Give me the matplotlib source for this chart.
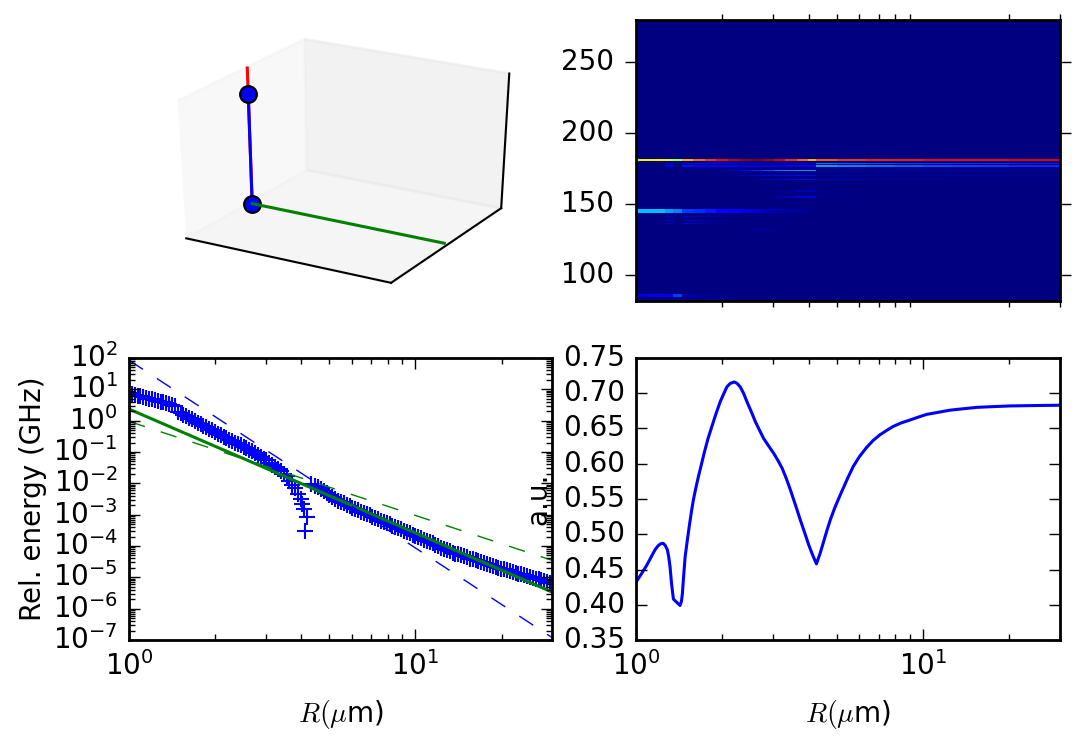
import numpy as np
import matplotlib
matplotlib.use('Agg')
import matplotlib.pyplot as plt
from matplotlib.ticker import LogLocator, NullFormatter, FixedLocator
from mpl_toolkits.mplot3d import Axes3D

# ---------------- data ----------------
log_R_pts = [
    0.00, 0.01, 0.02, 0.03, 0.04, 0.05, 0.06, 0.07, 0.08, 0.09,
    0.10, 0.11, 0.12, 0.13, 0.14, 0.15, 0.16, 0.17, 0.18, 0.19,
    0.20, 0.21, 0.22, 0.23, 0.24, 0.25, 0.26, 0.27, 0.28, 0.29,
    0.30, 0.31, 0.32, 0.33, 0.34, 0.35, 0.36, 0.37, 0.38, 0.39,
    0.40, 0.41, 0.42, 0.43, 0.44, 0.45, 0.46, 0.47, 0.48, 0.49,
    0.50, 0.51, 0.52, 0.53, 0.54, 0.55, 0.56, 0.57, 0.58, 0.59,
    0.60, 0.605, 0.61, 0.615, 0.622, 0.637, 0.65, 0.66, 0.67, 0.68,
    0.69, 0.70, 0.71, 0.72, 0.73, 0.74, 0.75, 0.76, 0.77, 0.78,
    0.79, 0.80, 0.81, 0.82, 0.83, 0.84, 0.85, 0.86, 0.87, 0.88,
    0.89, 0.90, 0.91, 0.92, 0.93, 0.94, 0.95, 0.96, 0.97, 0.98,
    0.99, 1.00, 1.01, 1.02, 1.03, 1.04, 1.05, 1.06, 1.07, 1.08,
    1.09, 1.10, 1.11, 1.12, 1.13, 1.14, 1.15, 1.16, 1.17, 1.18,
    1.19, 1.20, 1.21, 1.22, 1.23, 1.24, 1.25, 1.26, 1.27, 1.28,
    1.29, 1.30, 1.31, 1.32, 1.33, 1.34, 1.35, 1.36, 1.37, 1.38,
    1.39, 1.40, 1.41, 1.42, 1.43, 1.44, 1.45, 1.46, 1.47, 1.48]
log_E_pts = [
    0.88, 0.85, 0.83, 0.80, 0.78, 0.75, 0.73, 0.70, 0.68, 0.65,
    0.62, 0.60, 0.58, 0.55, 0.53, 0.50, 0.48, 0.29, 0.24, 0.19,
    0.14, 0.09, 0.04, -0.01, -0.06, -0.11, -0.16, -0.21, -0.26, -0.31,
    -0.36, -0.41, -0.47, -0.52, -0.56, -0.61, -0.65, -0.70, -0.75, -0.79,
    -0.84, -0.88, -0.93, -0.98, -1.03, -1.09, -1.15, -1.21, -1.27, -1.34,
    -1.41, -1.47, -1.54, -1.61, -1.69, -1.78, -1.92, -2.05, -2.16, -2.35,
    -2.50, -2.65, -2.82, -3.52, -3.06, -2.02, -2.08, -2.13, -2.18, -2.24,
    -2.30, -2.37, -2.43, -2.50, -2.55, -2.59, -2.64, -2.69, -2.73, -2.78,
    -2.82, -2.86, -2.90, -2.94, -2.98, -3.02, -3.06, -3.10, -3.14, -3.19,
    -3.23, -3.27, -3.31, -3.35, -3.39, -3.43, -3.47, -3.51, -3.55, -3.60,
    -3.64, -3.68, -3.72, -3.76, -3.80, -3.84, -3.88, -3.92, -3.96, -4.00,
    -4.05, -4.09, -4.13, -4.17, -4.21, -4.24, -4.27, -4.30, -4.33, -4.36,
    -4.40, -4.43, -4.46, -4.49, -4.52, -4.55, -4.58, -4.61, -4.63, -4.66,
    -4.69, -4.72, -4.74, -4.77, -4.80, -4.82, -4.85, -4.88, -4.90, -4.93,
    -4.96, -4.98, -5.01, -5.04, -5.06, -5.09, -5.12, -5.14, -5.17, -5.19]

R_ends = [1, 30]
green_solid = [2.35, 3.4e-6]
green_dash = [0.95, 3.5e-5]
blue_dash = [85, 1.2e-7]

R_curve = [1.0, 1.045, 1.09, 1.13, 1.165, 1.19, 1.213, 1.23, 1.245, 1.265,
           1.286, 1.30, 1.314, 1.33, 1.35, 1.39, 1.424, 1.44, 1.451, 1.465,
           1.483, 1.51, 1.535, 1.56, 1.585, 1.615, 1.65, 1.69, 1.727, 1.78,
           1.838, 1.90, 1.965, 2.02, 2.073, 2.13, 2.199, 2.25, 2.307, 2.37,
           2.435, 2.52, 2.603, 2.69, 2.783, 2.90, 3.016, 3.12, 3.226, 3.34,
           3.45, 3.59, 3.738, 3.87, 3.996, 4.12, 4.252, 4.38, 4.508, 4.63,
           4.758, 4.92, 5.087, 5.241, 5.47, 5.71, 6.0, 6.355, 6.7, 7.072,
           7.45, 7.876, 8.4, 9.0, 9.6, 10.29, 11.3, 12.41, 13.8, 15.39,
           17.5, 20.06, 24.0, 30.0]
au_curve = [0.432, 0.444, 0.456, 0.468, 0.478, 0.483, 0.486, 0.487, 0.487, 0.484,
            0.478, 0.468, 0.454, 0.430, 0.408, 0.403, 0.399, 0.405, 0.416, 0.440,
            0.468, 0.492, 0.513, 0.532, 0.549, 0.565, 0.582, 0.599, 0.615, 0.635,
            0.653, 0.671, 0.688, 0.699, 0.709, 0.714, 0.716, 0.714, 0.709, 0.700,
            0.688, 0.674, 0.660, 0.648, 0.636, 0.625, 0.615, 0.605, 0.594, 0.579,
            0.563, 0.542, 0.520, 0.502, 0.485, 0.471, 0.458, 0.473, 0.490, 0.506,
            0.521, 0.537, 0.551, 0.563, 0.580, 0.596, 0.610, 0.623, 0.633, 0.641,
            0.647, 0.653, 0.658, 0.662, 0.666, 0.670, 0.673, 0.676, 0.678, 0.680,
            0.681, 0.682, 0.6825, 0.683]

map_log_R_edges = [0, .05, .10, .13, .16, .20, .24, .28, .32, .36, .40, .44, .48,
                   .52, .56, .60, .627, .70, .80, .90, 1.0, 1.1, 1.2, 1.3, 1.4, 1.48]
map_freq_edges = [82, 85, 87, 131.5, 133, 136, 137, 138.3, 139.3, 140.9, 141.9,
                  144, 146.4, 154.8, 156.2, 159, 160, 167, 168, 170, 171,
                  173.2, 173.9, 176.4, 178, 178.6, 179.4, 180.8, 181.6, 280]
line_86 = [.08, .09, .10, .18, .04, .03, .02, .02, .01, 0, 0, 0, 0, 0, 0, 0, 0, 0, 0, 0, 0, 0, 0, 0, 0]
line_132 = [0, 0, 0, 0, 0, 0, 0, 0, 0, .01, .02, .02, .01, 0, 0, 0, 0, 0, 0, 0, 0, 0, 0, 0, 0]
line_136 = [0, 0, .06, 0, .06, .05, .03, .02, .01, 0, 0, 0, 0, 0, 0, 0, 0, 0, 0, 0, 0, 0, 0, 0, 0]
line_139 = [0, 0, .06, 0, .06, .05, .03, .02, .01, 0, 0, 0, 0, 0, 0, 0, 0, 0, 0, 0, 0, 0, 0, 0, 0]
line_141 = [0, 0, .06, 0, .06, .05, .04, .02, .01, 0, 0, 0, 0, 0, 0, 0, 0, 0, 0, 0, 0, 0, 0, 0, 0]
line_145 = [.31, .31, .28, .25, .18, .17, .15, .13, .11, .09, .07, .05, .04, .03, .02, .01, 0, 0, 0, 0, 0, 0, 0, 0, 0]
line_155 = [0, 0, 0, 0, 0, 0, 0, 0, 0, 0, 0, .01, .03, .05, .08, .09, .01, .01, 0, 0, 0, 0, 0, 0, 0]
line_159 = [0, 0, 0, 0, 0, 0, 0, 0, 0, 0, 0, 0, .01, .02, .05, .06, .01, 0, 0, 0, 0, 0, 0, 0, 0]
line_167 = [0, 0, 0, 0, 0, 0, 0, 0, 0, 0, .03, .05, .07, .10, .12, .13, .04, .04, .03, .03, .03, .02, .02, .02, .02]
line_170 = [0, 0, 0, 0, 0, 0, 0, 0, .01, .03, .06, .09, .11, .12, .13, .13, .03, .03, .03, .02, .02, .02, .02, .02, .02]
line_173 = [0, 0, 0, 0, 0, 0, 0, .03, .06, .11, .16, .20, .24, .26, .27, .28, .05, .05, .05, .05, .04, .04, .04, .03, .03]
line_177 = [0, 0, .10, 0, .14, .13, .12, .12, .11, .10, .09, .09, .10, .11, .12, .13, .28, .26, .24, .22, .20, .19, .18, .17, .17]
line_179 = [0, 0, .08, 0, .13, .13, .12, .12, .11, .10, .09, .08, .08, .08, .08, .09, .24, .22, .20, .19, .18, .17, .17, .16, .16]
line_181 = [.66, .66, .62, .55, .72, .80, .86, .90, .94, .98, 1.0, .97, .92, .87, .80, .72, .82, .86, .88, .89, .90, .90, .90, .91, .91]

y_ticks_map = [100, 150, 200, 250]
y_ticks_au = [0.35, 0.40, 0.45, 0.50, 0.55, 0.60, 0.65, 0.70, 0.75]

# 3D sketch
z_axis_x, z_axis_y, z_axis_z = [0, 0], [0, 0], [0, 0.98]
x_axis_x, x_axis_y, x_axis_z = [0, 1.0], [0, 0], [0, 0]
bond_x, bond_y, bond_z = [0, 0], [0, 0], [0, 0.8]

# ---------------- figure ----------------
plt.style.use('classic')
FS = 10
plt.rcParams.update({'font.size': FS, 'axes.labelsize': FS, 'xtick.labelsize': FS,
                     'ytick.labelsize': FS, 'lines.scale_dashes': False})
W, H = 1078, 751
fig = plt.figure(figsize=(W / 200, H / 200), dpi=200, facecolor='white')


def box(x0, y0, x1, y1):
    return [x0 / W, 1 - y1 / H, (x1 - x0) / W, (y1 - y0) / H]


def log_x(ax):
    ax.set_xscale('log')
    ax.set_xlim(1, 30)
    ax.xaxis.set_major_locator(LogLocator(base=10, numticks=5))
    ax.xaxis.set_minor_locator(LogLocator(base=10, subs=range(2, 10), numticks=5))
    ax.xaxis.set_minor_formatter(NullFormatter())


# 3D panel
ax3 = fig.add_axes(box(129, 20, 552, 301), projection='3d', computed_zorder=False)
ax3.patch.set_visible(False)
ax3.plot(z_axis_x, z_axis_y, z_axis_z, color='r', lw=1.1)
ax3.plot(bond_x, bond_y, bond_z, color='b', lw=1.1)
ax3.plot(bond_x, bond_y, bond_z, 'o', mfc='b', mec='k', ms=6, mew=0.8)
ax3.plot(x_axis_x, x_axis_y, x_axis_z, color='g', lw=1.1)
ax3.set_xlim(-0.02, 1.02)
ax3.set_ylim(-1, 1)
ax3.set_zlim(0, 0.97)
ax3.set_xticks([])
ax3.set_yticks([])
ax3.set_zticks([])
ax3.grid(False)
ax3.set_box_aspect((1, 1, 1), zoom=0.94)
# let the 3D box fill the whole panel, stretched to its width
_pos3 = ax3.get_position(original=True)
ax3.apply_aspect = lambda position=None: ax3._set_position(_pos3, 'active')

# heat map
ax_map = fig.add_axes(box(636, 20, 1060, 301))
Z = np.zeros((len(map_freq_edges) - 1, len(map_log_R_edges) - 1))
Z[1::2] = np.array([line_86, line_132, line_136, line_139, line_141, line_145, line_155,
                    line_159, line_167, line_170, line_173, line_177, line_179, line_181])
ax_map.pcolormesh(10.0 ** np.array(map_log_R_edges), map_freq_edges, Z,
                  cmap='jet', vmin=0, vmax=1, shading='flat')
log_x(ax_map)
ax_map.set_ylim(82, 279.7)
ax_map.yaxis.set_major_locator(FixedLocator(y_ticks_map))
ax_map.tick_params(axis='both', which='both', direction='out')
ax_map.tick_params(axis='x', which='major', length=0, labelbottom=False)

# energies
ax_e = fig.add_axes(box(129, 358, 552, 640))
ax_e.plot(10.0 ** np.array(log_R_pts), 10.0 ** np.array(log_E_pts), '+', color='b', ms=6, mew=0.75)
ax_e.plot(R_ends, green_solid, color='g', lw=1.1)
ax_e.plot(R_ends, green_dash, color='g', lw=0.5, ls=(0, (6, 6)))
ax_e.plot(R_ends, blue_dash, color='b', lw=0.5, ls=(0, (6, 6)))
ax_e.set_yscale('log')
log_x(ax_e)
ax_e.set_ylim(1e-7, 1e2)
ax_e.yaxis.set_major_locator(LogLocator(base=10, numticks=12))
ax_e.yaxis.set_minor_locator(LogLocator(base=10, subs=range(2, 10), numticks=12))
ax_e.yaxis.set_minor_formatter(NullFormatter())
ax_e.set_xlabel(r'$R(\mu$m)', labelpad=6)
ax_e.set_ylabel('Rel. energy (GHz)')
ax_e.yaxis.set_label_coords(-0.195, 0.5)

# a.u. curve
ax_au = fig.add_axes(box(636, 358, 1060, 640))
ax_au.plot(R_curve, au_curve, color='b', lw=1.1)
log_x(ax_au)
ax_au.set_ylim(0.35, 0.75)
ax_au.yaxis.set_major_locator(FixedLocator(y_ticks_au))
ax_au.set_yticklabels(['%.2f' % v for v in y_ticks_au])
ax_au.set_xlabel(r'$R(\mu$m)', labelpad=6)
ax_au.set_ylabel('a.u.')
ax_au.yaxis.set_label_coords(-0.197, 0.5)

fig.savefig('out.png', dpi=200, facecolor='white')
